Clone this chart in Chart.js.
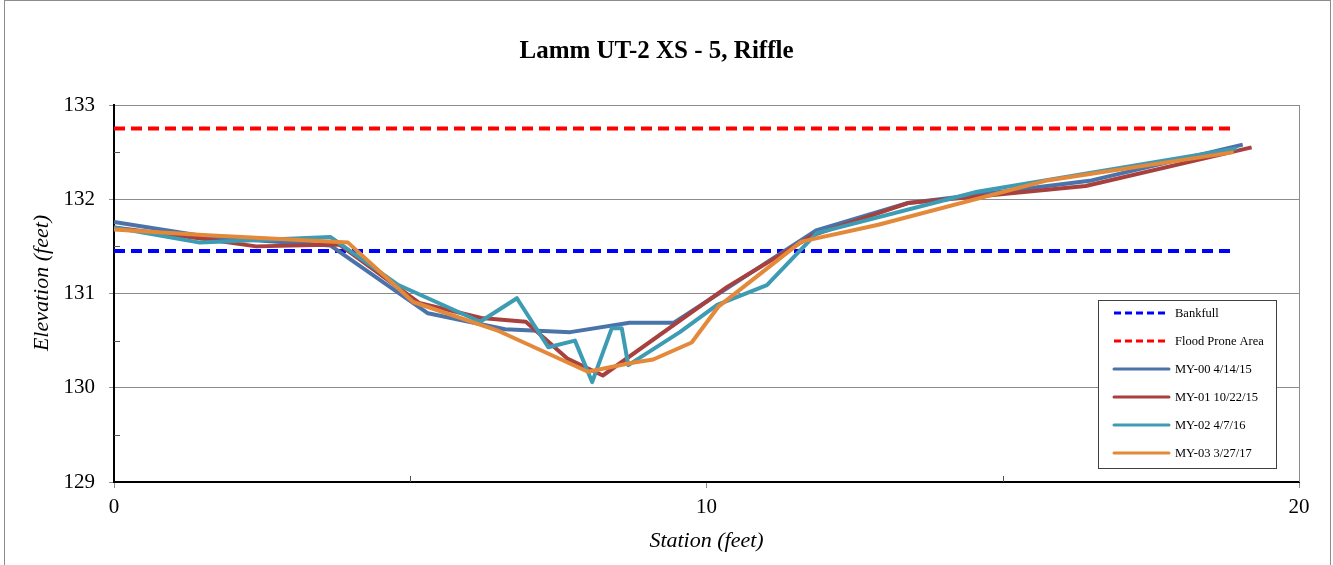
<!DOCTYPE html>
<html>
<head>
<meta charset="utf-8">
<script src="https://cdn.jsdelivr.net/npm/chart.js@4.4.1/dist/chart.umd.min.js"></script>
<style>
  html, body { margin: 0; padding: 0; background: #ffffff; }
  #wrap { position: relative; width: 1333px; height: 565px; }
</style>
</head>
<body>
<div id="wrap"><canvas id="xs" width="1333" height="565"></canvas></div>
<script>
// Cross-section survey: station (ft) vs elevation (ft)
const chartTitle = 'Lamm UT-2 XS - 5, Riffle';
const xAxisTitle = 'Station (feet)';
const yAxisTitle = 'Elevation (feet)';
const xTickValues = [0, 10, 20];
const yTickValues = [129, 130, 131, 132, 133];

const bankfullStation = [0, 18.9];
const bankfullElev = [131.45, 131.45];

const floodStation = [0, 18.9];
const floodElev = [132.75, 132.75];

const my00Station = [0, 1.6, 3.65, 5.3, 6.6, 7.7, 8.7, 9.45, 11.85, 13.4, 14.6, 16.5, 19.05];
const my00Elev = [131.76, 131.6, 131.51, 130.79, 130.62, 130.59, 130.69, 130.69, 131.67, 131.96, 132.05, 132.2, 132.58];

const my01Station = [0, 1.5, 2.4, 3.8, 5.15, 6.2, 6.95, 7.65, 8.25, 10.35, 11.8, 13.4, 14.75, 16.4, 19.2];
const my01Elev = [131.7, 131.58, 131.5, 131.52, 130.9, 130.74, 130.7, 130.31, 130.13, 131.07, 131.62, 131.96, 132.04, 132.14, 132.55];

const my02Station = [0, 1.45, 3.65, 4.8, 6.18, 6.8, 7.33, 7.78, 8.07, 8.4, 8.57, 8.68, 9.55, 10.18, 11.02, 11.86, 14.57, 18.95];
const my02Elev = [131.7, 131.54, 131.6, 131.09, 130.7, 130.95, 130.43, 130.5, 130.06, 130.63, 130.63, 130.24, 130.59, 130.88, 131.09, 131.64, 132.08, 132.54];

const my03Station = [0, 1.5, 3.95, 5.05, 6.5, 8.0, 8.7, 9.1, 9.75, 10.2, 11.6, 12.9, 15.75, 18.9];
const my03Elev = [131.68, 131.62, 131.54, 130.91, 130.6, 130.17, 130.26, 130.3, 130.48, 130.86, 131.55, 131.73, 132.2, 132.5];

const seriesLabels = ['Bankfull', 'Flood Prone Area', 'MY-00 4/14/15', 'MY-01 10/22/15', 'MY-02 4/7/16', 'MY-03 3/27/17'];

const serif = "'Liberation Serif', 'Times New Roman', serif";

function toPoints(xs, ys) {
  return xs.map((x, i) => ({ x: x, y: ys[i] }));
}

function lineSet(label, xs, ys, color, dashed, order) {
  return {
    label: label,
    data: toPoints(xs, ys),
    showLine: true,
    borderColor: color,
    backgroundColor: color,
    borderWidth: 4,
    borderDash: dashed ? [11, 6] : [],
    borderCapStyle: 'butt',
    borderJoinStyle: 'round',
    pointRadius: 0,
    pointHoverRadius: 0,
    tension: 0,
    fill: false,
    order: order
  };
}

const datasets = [
  lineSet(seriesLabels[0], bankfullStation, bankfullElev, '#0000ff', true, 6),
  lineSet(seriesLabels[1], floodStation, floodElev, '#ff0000', true, 5),
  lineSet(seriesLabels[2], my00Station, my00Elev, '#4a73aa', false, 4),
  lineSet(seriesLabels[3], my01Station, my01Elev, '#a8403e', false, 3),
  lineSet(seriesLabels[4], my02Station, my02Elev, '#3d9bb3', false, 2),
  lineSet(seriesLabels[5], my03Station, my03Elev, '#e48839', false, 1)
];

// Frame, plot-area border, inward minor ticks, vertical axis title and the boxed legend
const decorations = {
  id: 'decorations',
  beforeDraw(chart) {
    const ctx = chart.ctx;
    ctx.save();
    ctx.fillStyle = '#ffffff';
    ctx.fillRect(0, 0, chart.width, chart.height);
    ctx.strokeStyle = '#8c8c8c';
    ctx.lineWidth = 1;
    ctx.strokeRect(4.5, 0.5, 1326, 580);
    ctx.restore();
  },
  afterDraw(chart) {
    const ctx = chart.ctx;
    const area = chart.chartArea;
    ctx.save();
    ctx.translate(42, 283);
    ctx.rotate(-Math.PI / 2);
    ctx.font = 'italic 22px ' + serif;
    ctx.fillStyle = '#000000';
    ctx.textAlign = 'center';
    ctx.textBaseline = 'middle';
    ctx.fillText(yAxisTitle, 0, 0);
    ctx.restore();
  },
  afterDatasetsDraw(chart) {
    const ctx = chart.ctx;
    const area = chart.chartArea;
    const xs = chart.scales.x;
    const ys = chart.scales.y;
    ctx.save();
    // right border of plot area
    ctx.strokeStyle = '#8c8c8c';
    ctx.lineWidth = 1;
    ctx.beginPath();
    ctx.moveTo(Math.round(area.right) + 0.5, area.top);
    ctx.lineTo(Math.round(area.right) + 0.5, area.bottom);
    ctx.stroke();
    // minor ticks pointing into the plot
    ctx.strokeStyle = '#555555';
    ctx.beginPath();
    for (let v = 129.5; v < 133; v += 1) {
      const py = Math.round(ys.getPixelForValue(v)) + 0.5;
      ctx.moveTo(area.left, py);
      ctx.lineTo(area.left + 6, py);
    }
    [5, 15].forEach(v => {
      const px = Math.round(xs.getPixelForValue(v)) + 0.5;
      ctx.moveTo(px, area.bottom);
      ctx.lineTo(px, area.bottom - 6);
    });
    ctx.stroke();

    // legend box
    const bx = 1098.5, by = 300.5, bw = 178, bh = 168;
    ctx.fillStyle = '#ffffff';
    ctx.fillRect(bx, by, bw, bh);
    ctx.strokeStyle = '#404040';
    ctx.lineWidth = 1;
    ctx.strokeRect(bx, by, bw, bh);
    const rowY = [313, 341, 369, 397, 425, 453];
    ctx.font = '12.5px ' + serif;
    ctx.textBaseline = 'middle';
    ctx.textAlign = 'left';
    chart.data.datasets.forEach((ds, i) => {
      const y = rowY[i];
      ctx.strokeStyle = ds.borderColor;
      ctx.lineWidth = 3;
      ctx.setLineDash(ds.borderDash.length ? [7, 4] : []);
      ctx.lineCap = ds.borderDash.length ? 'butt' : 'round';
      ctx.beginPath();
      ctx.moveTo(1114, y);
      ctx.lineTo(1169, y);
      ctx.stroke();
      ctx.setLineDash([]);
      ctx.fillStyle = '#000000';
      ctx.fillText(ds.label, 1175, y + 1);
    });
    ctx.restore();
  }
};

new Chart(document.getElementById('xs'), {
  type: 'scatter',
  data: { datasets: datasets },
  plugins: [decorations],
  options: {
    responsive: false,
    animation: false,
    devicePixelRatio: 1,
    layout: { padding: { left: 14, right: 34, top: 0, bottom: 0 } },
    plugins: {
      legend: { display: false },
      tooltip: { enabled: false },
      title: {
        display: true,
        text: chartTitle,
        color: '#000000',
        font: { family: serif, size: 25, weight: 'bold', lineHeight: 1.2 },
        padding: { top: 36.7, bottom: 38.3 }
      }
    },
    scales: {
      x: {
        type: 'linear',
        min: 0,
        max: 20,
        afterBuildTicks(scale) { scale.ticks = xTickValues.map(v => ({ value: v })); },
        afterFit(scale) { scale.height = 83; },
        ticks: {
          color: '#000000',
          font: { family: serif, size: 21 },
          padding: 7,
          maxRotation: 0
        },
        grid: { drawOnChartArea: false, drawTicks: true, tickLength: 6, color: '#8c8c8c' },
        border: { display: true, color: '#000000', width: 2 },
        title: {
          display: true,
          text: xAxisTitle,
          color: '#000000',
          font: { family: serif, size: 22, style: 'italic', lineHeight: 1.2 },
          padding: { top: 0, bottom: 10.5 }
        }
      },
      y: {
        type: 'linear',
        min: 129,
        max: 133,
        afterBuildTicks(scale) { scale.ticks = yTickValues.map(v => ({ value: v })); },
        afterFit(scale) { scale.width = 100; },
        ticks: {
          color: '#000000',
          font: { family: serif, size: 21 },
          padding: 14
        },
        grid: { drawTicks: true, tickLength: 5, color: '#8c8c8c', lineWidth: 1 },
        border: { display: true, color: '#000000', width: 2 },
        title: { display: false }
      }
    }
  }
});
</script>
</body>
</html>
